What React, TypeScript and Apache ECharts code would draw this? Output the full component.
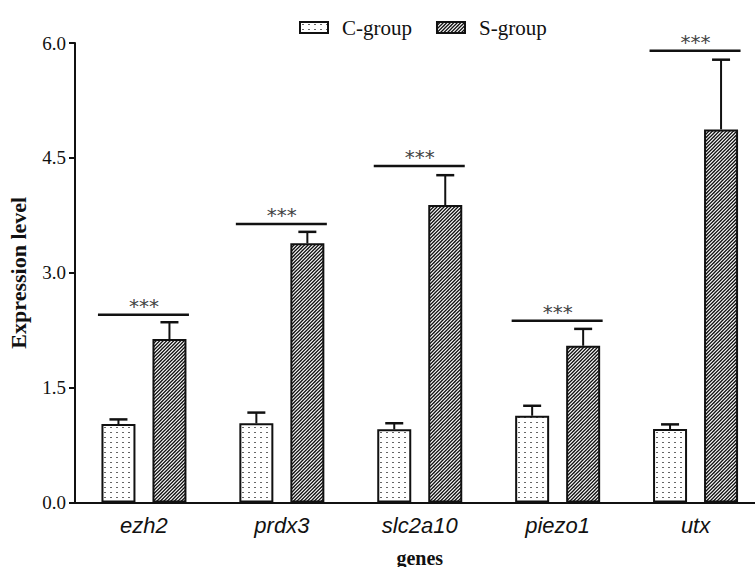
import React, { useEffect, useRef } from "react";
import * as echarts from "echarts";

const categories = ["ezh2", "prdx3", "slc2a10", "piezo1", "utx"];
const cGroupMeans = [1.025, 1.034, 0.955, 1.133, 0.96];
const cGroupErrors = [0.06, 0.14, 0.08, 0.13, 0.06];
const sGroupMeans = [2.134, 3.384, 3.884, 2.047, 4.872];
const sGroupErrors = [0.22, 0.15, 0.39, 0.22, 0.91];
const sigLevels = [2.45, 3.636, 4.393, 2.373, 5.898];
const sigLabels = ["***", "***", "***", "***", "***"];
const yMin = 0;
const yMax = 6;
const yInterval = 1.5;

const BAR_WIDTH = 34;
const BAR_GAP = 17;
const HALF_SPACING = (BAR_WIDTH + BAR_GAP) / 2;

function makeDots(): HTMLCanvasElement {
  const c = document.createElement("canvas");
  c.width = 6;
  c.height = 5;
  const ctx = c.getContext("2d")!;
  ctx.fillStyle = "#ffffff";
  ctx.fillRect(0, 0, 6, 5);
  ctx.fillStyle = "#666666";
  ctx.fillRect(2, 2, 2, 1);
  return c;
}

function makeHatch(): HTMLCanvasElement {
  const s = 7;
  const c = document.createElement("canvas");
  c.width = s;
  c.height = s;
  const ctx = c.getContext("2d")!;
  ctx.fillStyle = "#ffffff";
  ctx.fillRect(0, 0, s, s);
  ctx.strokeStyle = "#111111";
  ctx.lineWidth = 1.3;
  for (let k = -2; k <= 6; k++) {
    const d = k * 3.5;
    ctx.beginPath();
    ctx.moveTo(d - s, s + s);
    ctx.lineTo(d + s + s, -s);
    ctx.stroke();
  }
  return c;
}

export default function App() {
  const ref = useRef<HTMLDivElement>(null);
  useEffect(() => {
    if (!ref.current) return;
    const chart = echarts.init(ref.current, undefined, { renderer: "svg" });
    const dots = makeDots();
    const hatch = makeHatch();

    const errRender = (offset: number) => (params: any, api: any) => {
      const i = api.value(0);
      const v = api.value(1);
      const e = api.value(2);
      const p0 = api.coord([i, v]);
      const p1 = api.coord([i, v + e]);
      const x = p0[0] + offset;
      return {
        type: "group",
        children: [
          { type: "line", shape: { x1: x, y1: p0[1], x2: x, y2: p1[1] }, style: { stroke: "#111", lineWidth: 2 } },
          { type: "line", shape: { x1: x - 9, y1: p1[1], x2: x + 9, y2: p1[1] }, style: { stroke: "#111", lineWidth: 2.5 } },
        ],
      };
    };

    const sigRender = (params: any, api: any) => {
      const i = api.value(0);
      const v = api.value(1);
      const p = api.coord([i, v]);
      return {
        type: "group",
        children: [
          { type: "line", shape: { x1: p[0] - 46, y1: p[1], x2: p[0] + 45, y2: p[1] }, style: { stroke: "#111", lineWidth: 2.5 } },
          {
            type: "text",
            x: p[0],
            y: p[1] - 9,
            style: {
              text: sigLabels[i],
              align: "center",
              verticalAlign: "middle",
              font: "20px 'DejaVu Sans'",
              fill: "#444",
            },
          },
        ],
      };
    };

    chart.setOption({
      animation: false,
      backgroundColor: "#ffffff",
      legend: {
        data: ["C-group", "S-group"],
        left: 294,
        top: 12,
        icon: "rect",
        itemWidth: 28,
        itemHeight: 11,
        itemGap: 24,
        itemStyle: { borderColor: "#111", borderWidth: 2 },
        textStyle: {
          fontFamily: "'Liberation Serif', 'Times New Roman', serif",
          fontSize: 21,
          color: "#111",
          padding: [0, 0, 0, 9],
        },
      },
      grid: {
        left: 75,
        top: 43,
        width: 689.5,
        bottom: 64.5,
        containLabel: false,
        outerBoundsMode: "none",
      },
      xAxis: {
        type: "category",
        data: categories,
        axisLine: { lineStyle: { color: "#111", width: 2 } },
        axisTick: { alignWithLabel: true, length: 6, lineStyle: { color: "#111", width: 2 } },
        axisLabel: {
          margin: 12,
          fontFamily: "'Liberation Sans', Arial, sans-serif",
          fontStyle: "italic",
          fontSize: 22,
          color: "#111",
        },
        name: "genes",
        nameLocation: "middle",
        nameGap: 45,
        nameTextStyle: {
          fontFamily: "'Liberation Serif', 'Times New Roman', serif",
          fontWeight: "bold",
          fontSize: 20,
          color: "#111",
        },
      },
      yAxis: {
        type: "value",
        min: yMin,
        max: yMax,
        interval: yInterval,
        splitLine: { show: false },
        axisLine: { show: true, lineStyle: { color: "#111", width: 2 } },
        axisTick: { show: true, length: 6, lineStyle: { color: "#111", width: 2 } },
        axisLabel: {
          margin: 9,
          formatter: (v: number) => v.toFixed(1),
          fontFamily: "'Liberation Serif', 'Times New Roman', serif",
          fontSize: 19,
          color: "#111",
        },
        name: "Expression level",
        nameLocation: "middle",
        nameGap: 46,
        nameTextStyle: {
          fontFamily: "'Liberation Serif', 'Times New Roman', serif",
          fontWeight: "bold",
          fontSize: 22,
          color: "#111",
        },
      },
      series: [
        {
          name: "C-group",
          type: "bar",
          data: cGroupMeans,
          barWidth: BAR_WIDTH,
          barGap: "50%",
          itemStyle: { color: { image: dots, repeat: "repeat" }, borderColor: "#111", borderWidth: 2 },
          z: 2,
        },
        {
          name: "S-group",
          type: "bar",
          data: sGroupMeans,
          barWidth: BAR_WIDTH,
          barGap: "50%",
          itemStyle: { color: { image: hatch, repeat: "repeat" }, borderColor: "#111", borderWidth: 2 },
          z: 2,
        },
        {
          type: "custom",
          name: "cErr",
          renderItem: errRender(-HALF_SPACING),
          data: categories.map((c, i) => [i, cGroupMeans[i], cGroupErrors[i]]),
          encode: { x: 0, y: 1 },
          z: 3,
          silent: true,
        },
        {
          type: "custom",
          name: "sErr",
          renderItem: errRender(HALF_SPACING),
          data: categories.map((c, i) => [i, sGroupMeans[i], sGroupErrors[i]]),
          encode: { x: 0, y: 1 },
          z: 3,
          silent: true,
        },
        {
          type: "custom",
          name: "sig",
          renderItem: sigRender,
          data: categories.map((c, i) => [i, sigLevels[i]]),
          encode: { x: 0, y: 1 },
          z: 3,
          silent: true,
        },
      ],
    });
    return () => chart.dispose();
  }, []);
  return (
    <div
      ref={ref}
      style={{ position: "fixed", left: 0, top: 0, width: 755, height: 567, background: "#fff" }}
    />
  );
}
